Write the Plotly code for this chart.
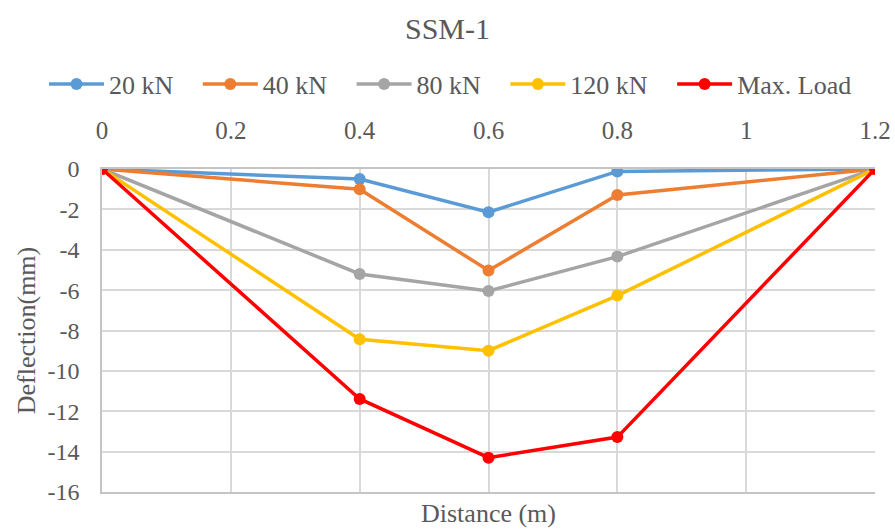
import plotly.graph_objects as go

distance = [0, 0.4, 0.6, 0.8, 1.2]
series_names = ["20 kN", "40 kN", "80 kN", "120 kN", "Max. Load"]
defl_20 = [0, -0.50, -2.14, -0.12, 0]
defl_40 = [0, -1.00, -5.03, -1.29, 0]
defl_80 = [0, -5.20, -6.04, -4.34, 0]
defl_120 = [0, -8.43, -9.00, -6.27, 0]
defl_max = [0, -11.39, -14.30, -13.28, 0]
colors = ["#5b9bd5", "#ed7d31", "#a5a5a5", "#ffc000", "#ff0000"]
x_ticks = [0, 0.2, 0.4, 0.6, 0.8, 1, 1.2]
x_tick_text = ["0", "0.2", "0.4", "0.6", "0.8", "1", "1.2"]
y_ticks = [0, -2, -4, -6, -8, -10, -12, -14, -16]
y_tick_text = ["0", "-2", "-4", "-6", "-8", "-10", "-12", "-14", "-16"]

FONT = "Liberation Serif, Times New Roman, Tinos, serif"
TXT = "#595959"
PAD = "\u00a0" * 3  # visual spacing between legend entries

fig = go.Figure()
all_series = [defl_20, defl_40, defl_80, defl_120, defl_max]
for i, (name, ys, c) in enumerate(zip(series_names, all_series, colors)):
    fig.add_trace(go.Scatter(
        x=distance, y=ys, name=name + (PAD if i < len(series_names) - 1 else ""),
        mode="lines+markers",
        line=dict(color=c, width=3.5),
        marker=dict(color=c, size=12),
    ))

fig.update_layout(
    width=895, height=530,
    paper_bgcolor="white", plot_bgcolor="white",
    margin=dict(l=102, r=20, t=169, b=38),
    font=dict(family=FONT, color=TXT, size=24),
    title=dict(text="SSM-1", x=0.5, xanchor="center", y=0.947, yanchor="middle",
               font=dict(family=FONT, size=30, color=TXT)),
    legend=dict(orientation="h", x=-0.075, xanchor="left",
                y=1.263, yanchor="middle",
                font=dict(family=FONT, size=26, color=TXT),
                itemwidth=55, bgcolor="rgba(0,0,0,0)"),
    xaxis=dict(
        side="top", range=[0, 1.2], tickvals=x_ticks, ticktext=x_tick_text,
        showgrid=True, gridcolor="#d9d9d9", gridwidth=1.5, zeroline=False,
        ticks="outside", ticklen=18, tickcolor="rgba(0,0,0,0)",
        tickfont=dict(family=FONT, size=25, color=TXT),
        showline=True, mirror=True, linecolor="#c4c4c4", linewidth=1.5,
        automargin=False,
    ),
    yaxis=dict(
        range=[-16, 0], tickvals=y_ticks, ticktext=y_tick_text,
        showgrid=True, gridcolor="#d9d9d9", gridwidth=1.5, zeroline=False,
        showline=True, linecolor="#c4c4c4", linewidth=1.5,
        ticks="outside", ticklen=16, tickcolor="rgba(0,0,0,0)",
        tickfont=dict(family=FONT, size=24, color=TXT),
        title=dict(text="Deflection(mm)", standoff=4,
                   font=dict(family=FONT, size=26, color=TXT)),
        automargin=False,
    ),
    annotations=[dict(
        text="Distance (m)", xref="paper", yref="paper", x=0.5, y=0,
        xanchor="center", yanchor="middle", yshift=-21, showarrow=False,
        font=dict(family=FONT, size=26, color=TXT),
    )],
)

post = (
    "document.body.style.margin='0';document.body.style.padding='0';"
    "var gd=document.getElementById('{plot_id}');"
    "if(document.fonts&&document.fonts.ready){document.fonts.ready.then(function(){"
    "Plotly.react(gd, gd.data, gd.layout);});}"
)
fig.write_html("out.html", config={"displayModeBar": False}, post_script=post)
